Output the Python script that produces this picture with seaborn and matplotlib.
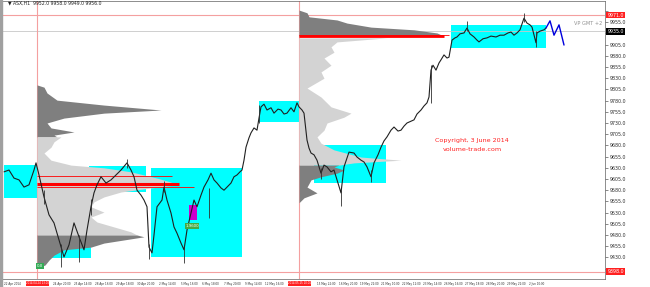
import matplotlib
matplotlib.use("Agg")
import matplotlib.pyplot as plt
import matplotlib.transforms as mtransforms
from matplotlib.patches import Rectangle
import seaborn as sns
import numpy as np
import pandas as pd

sns.set_style("white")
plt.rcParams['font.family'] = ['DejaVu Sans']

# ---------------- data ----------------
price_x = [0, 5, 10, 15, 20, 25, 30, 32, 35, 40, 45, 50, 55, 57, 60, 65, 70, 75, 80, 83, 87, 90, 93, 97,
           102, 107, 112, 117, 123, 127, 130, 133, 137, 140, 143, 145, 148, 150, 153, 158, 160, 163, 167,
           170, 173, 177, 180, 183, 187, 190, 193, 197, 200, 204, 207, 210, 213, 217, 220, 224, 227, 230,
           233, 236, 238, 240, 242, 245, 247, 250, 253, 255, 257, 260, 263, 267, 270, 274, 277, 280, 283,
           287, 290, 293, 295, 298, 300, 303, 305, 307, 310, 313, 317, 320, 323, 327, 330, 333, 337, 340,
           343, 345, 350, 353, 357, 360, 363, 367, 370, 374, 377, 380, 383, 387, 390, 394, 397, 400, 403,
           407, 410, 413, 417, 420, 423, 425, 427, 429, 432, 435, 437, 440, 443, 445, 448, 451, 453, 456,
           460, 463, 466, 470, 473, 475, 479, 483, 487, 492, 496, 500, 504, 507, 510, 513, 516, 518, 520,
           523, 526, 528, 530, 532, 533, 536, 540, 542]
price_close = [9621, 9625, 9607, 9603, 9587, 9592, 9625, 9641, 9614, 9565, 9525, 9507, 9469, 9453, 9431,
               9458, 9507, 9476, 9447, 9491, 9543, 9574, 9592, 9610, 9596, 9603, 9614, 9625, 9641, 9625,
               9610, 9580, 9569, 9558, 9543, 9453, 9440, 9480, 9543, 9558, 9587, 9558, 9529, 9498, 9484,
               9462, 9447, 9491, 9529, 9558, 9543, 9569, 9587, 9603, 9618, 9603, 9596, 9585, 9580, 9589,
               9596, 9610, 9614, 9621, 9625, 9647, 9676, 9697, 9708, 9719, 9714, 9741, 9766, 9772, 9759,
               9764, 9752, 9761, 9759, 9750, 9752, 9764, 9755, 9775, 9766, 9759, 9752, 9692, 9674, 9663,
               9659, 9647, 9618, 9636, 9632, 9621, 9625, 9603, 9574, 9632, 9652, 9665, 9663, 9654, 9647,
               9643, 9632, 9610, 9641, 9659, 9676, 9690, 9699, 9714, 9721, 9712, 9714, 9723, 9730, 9734,
               9737, 9750, 9759, 9768, 9775, 9788, 9848, 9859, 9848, 9864, 9871, 9882, 9875, 9877, 9915,
               9920, 9922, 9929, 9931, 9942, 9929, 9922, 9915, 9911, 9918, 9920, 9924, 9922, 9926, 9926,
               9931, 9933, 9926, 9931, 9938, 9951, 9964, 9953, 9949, 9944, 9926, 9909, 9931, 9935, 9938,
               9942]

# long wicks (x, low, high)
wick_x = [57, 75, 145, 180, 205, 337, 532, 463, 520, 123, 40, 87, 160, 255, 317, 367, 427]
wick_lo = [9409, 9420, 9427, 9418, 9518, 9545, 9900, 9935, 9955, 9630, 9550, 9525, 9575, 9730, 9605, 9598, 9775]
wick_hi = [9460, 9480, 9460, 9455, 9585, 9580, 9935, 9958, 9975, 9650, 9580, 9560, 9600, 9770, 9630, 9625, 9860]

# projection (blue)
proj_x = [542, 546, 550, 555, 560]
proj_y = [9942, 9958, 9926, 9949, 9904]

# cyan boxes: x0, x1, price_low, price_high
box_x0 = [0, 85, 40, 147, 255, 310, 447]
box_x1 = [33, 142, 87, 238, 297, 382, 542]
box_lo = [9563, 9576, 9429, 9431, 9732, 9596, 9897]
box_hi = [9636, 9634, 9469, 9630, 9779, 9681, 9949]

# volume profile 1 (anchored at 24 Apr)
vp1_anchor = 33
vp1_dark_up_p = [9815, 9810, 9797, 9781, 9770, 9759, 9752, 9741, 9730, 9719, 9710, 9703, 9699]
vp1_dark_up_w = [0, 7, 10, 20, 67, 124, 67, 27, 10, 14, 37, 17, 20]
vp1_light_p = [9699, 9688, 9676, 9663, 9647, 9636, 9630, 9621, 9614, 9607, 9598, 9592, 9585, 9576, 9565,
               9554, 9543, 9531, 9520, 9509, 9498, 9487, 9480]
vp1_light_w = [24, 17, 14, 7, 14, 34, 67, 94, 107, 120, 134, 140, 114, 84, 67, 57, 54, 67, 54, 60, 77, 94,
               100]
vp1_dark_lo_p = [9480, 9476, 9469, 9462, 9453, 9447, 9435, 9424, 9413, 9406]
vp1_dark_lo_w = [100, 107, 87, 67, 54, 27, 17, 12, 8, 0]

# volume profile 2 (anchored at 15 May)
vp2_anchor = 295
vp2_dark_up_p = [9982, 9976, 9967, 9960, 9953, 9944, 9938, 9931, 9924]
vp2_dark_up_w = [0, 8, 10, 38, 48, 72, 115, 138, 145]
vp2_light_p = [9920, 9911, 9900, 9888, 9875, 9859, 9844, 9830, 9808, 9788, 9766, 9752, 9743, 9730, 9714,
               9699, 9685, 9670, 9654, 9647, 9641, 9636]
vp2_light_w = [88, 38, 32, 35, 25, 32, 22, 25, 8, 22, 32, 52, 45, 28, 25, 18, 22, 35, 62, 102, 55, 40]
vp2_dark_lo_p = [9636, 9632, 9625, 9618, 9610, 9603, 9587, 9574, 9563, 9552]
vp2_dark_lo_w = [40, 35, 45, 38, 22, 12, 8, 18, 5, 0]

# POC lines: price, x_start, x_end, width
poc_p = [9594, 9612, 9587, 9924, 9926]
poc_x0 = [33, 33, 33, 295, 295]
poc_x1 = [175, 168, 190, 440, 445]
poc_lw = [2.2, 0.6, 0.6, 2.0, 0.6]

hline_top = 9971
hline_grey = 9935
hline_bottom = 9398
vline_x = [33, 295]

ytick_vals = list(range(9405, 9981, 25))
xtick_pos = [0, 49, 70, 91, 112, 133, 155, 177, 198, 220, 241, 261, 313, 335, 356, 377, 398, 419, 440,
             461, 482, 503, 525]
xtick_lab = ["22 Apr 2014", "24 Apr 20:00", "25 Apr 14:00", "28 Apr 16:00", "29 Apr 18:00",
             "30 Apr 20:00", "2 May 14:00", "5 May 16:00", "6 May 18:00", "7 May 20:00", "9 May 14:00",
             "12 May 16:00", "15 May 22:00", "16 May 20:00", "19 May 22:00", "21 May 10:00",
             "22 May 12:00", "23 May 14:00", "26 May 16:00", "27 May 18:00", "28 May 20:00",
             "29 May 22:00", "2 Jun 10:00"]
vline_labels = ["2014.04.24 13:00", "2014.05.15 10:00"]

# ---------------- figure ----------------
fig = plt.figure(figsize=(6.5, 2.87), dpi=100)
fig.patches.append(Rectangle((0, 0), 2 / 650, 1, transform=fig.transFigure, color="#a0a0a0", zorder=0))
ax = fig.add_axes([2 / 650, 8 / 287, 603 / 650, 278 / 287])
ax.set_xlim(-2, 601)
ax.set_ylim(9381.8, 10002.3)

for x0, x1, lo, hi in zip(box_x0, box_x1, box_lo, box_hi):
    ax.add_patch(Rectangle((x0, lo), x1 - x0, hi - lo, color="#00ffff", lw=0, zorder=1))

def draw_profile(anchor, p, w, color):
    p = np.asarray(p)
    w = np.asarray(w)
    ax.fill_betweenx(p, anchor, anchor + w, color=color, lw=0, zorder=2)

draw_profile(vp1_anchor, vp1_dark_up_p, vp1_dark_up_w, "#7f7f7f")
draw_profile(vp1_anchor, vp1_light_p, vp1_light_w, "#d3d3d3")
draw_profile(vp1_anchor, vp1_dark_lo_p, vp1_dark_lo_w, "#7f7f7f")
draw_profile(vp2_anchor, vp2_dark_up_p, vp2_dark_up_w, "#7f7f7f")
draw_profile(vp2_anchor, vp2_light_p, vp2_light_w, "#d3d3d3")
draw_profile(vp2_anchor, vp2_dark_lo_p, vp2_dark_lo_w, "#7f7f7f")

for p, x0, x1, lw in zip(poc_p, poc_x0, poc_x1, poc_lw):
    ax.plot([x0, x1], [p, p], color="#ff0000", lw=lw, solid_capstyle="butt", zorder=3)

ax.axhline(hline_top, color="#f4a0a0", lw=0.8, zorder=1.5)
ax.axhline(hline_grey, color="#c8c8c8", lw=0.6, zorder=1.5)
ax.axhline(hline_bottom, color="#f4a0a0", lw=0.8, zorder=1.5)
for vx in vline_x:
    ax.axvline(vx, color="#f4a0a0", lw=0.8, zorder=1.5)

df = pd.DataFrame({"x": price_x, "price": price_close})
sns.lineplot(data=df, x="x", y="price", color="#202020", lw=0.8, ax=ax, zorder=4, estimator=None)
ax.vlines(wick_x, wick_lo, wick_hi, color="#303030", lw=0.6, zorder=4)
sns.lineplot(x=proj_x, y=proj_y, color="#0000dd", lw=1.0, ax=ax, zorder=5, estimator=None)

# small markers
ax.add_patch(Rectangle((185, 9513), 8, 34, color="#cc00cc", lw=0, zorder=3.5))
ax.text(188, 9500, "1.9600", fontsize=2.8, color="white", ha="center", va="center", zorder=6,
        bbox=dict(boxstyle="square,pad=0.15", fc="#44aa44", ec="none"))
ax.text(36, 9411, "0.0", fontsize=2.8, color="white", ha="center", va="center", zorder=6,
        bbox=dict(boxstyle="square,pad=0.3", fc="#33aa55", ec="none"))

ax.text(468, 9690, "Copyright, 3 June 2014", fontsize=4.6, color="#ff2020", ha="center", va="center", zorder=6)
ax.text(468, 9670, "volume-trade.com", fontsize=4.6, color="#ff2020", ha="center", va="center", zorder=6)
ax.text(598, 9953, "VP GMT +2", fontsize=3.6, color="#909090", ha="right", va="center", zorder=6)
ax.text(4, 9997, "\u25bc ASX,H1  9952.0 9958.0 9949.0 9956.0", fontsize=3.3, color="#202020",
        ha="left", va="center", zorder=6)

# axes styling
ax.yaxis.tick_right()
ax.set_yticks(ytick_vals)
boxed = [hline_top, hline_grey, hline_bottom]
ax.set_yticklabels(["" if min(abs(v - b) for b in boxed) < 11 else f"{v:.1f}" for v in ytick_vals],
                   fontsize=3.4, color="#303030")
ax.tick_params(axis="y", length=2, width=0.4, pad=1.5, colors="#303030")
ax.set_xticks(xtick_pos)
ax.set_xticklabels(xtick_lab, fontsize=2.0, color="#303030", ha="left")
ax.tick_params(axis="x", length=1.2, width=0.4, pad=0.6, colors="#303030")
ax.set_xlabel("")
ax.set_ylabel("")
for s in ax.spines.values():
    s.set_color("#606060")
    s.set_linewidth(0.5)

trans_y = mtransforms.blended_transform_factory(ax.transAxes, ax.transData)
for val, fc, tc in [(hline_top, "#ff2020", "white"), (hline_grey, "#000000", "white"),
                    (hline_bottom, "#ff2020", "white")]:
    ax.text(1.004, val, f"{val:.1f}", transform=trans_y, fontsize=3.4, color=tc, ha="left", va="center",
            zorder=7, bbox=dict(boxstyle="square,pad=0.2", fc=fc, ec="none"), clip_on=False)

trans_x = mtransforms.blended_transform_factory(ax.transData, ax.transAxes)
for vx, lab in zip(vline_x, vline_labels):
    ax.text(vx - 11, -0.016, lab, transform=trans_x, fontsize=1.9, color="white", ha="left", va="center",
            zorder=7, bbox=dict(boxstyle="square,pad=0.15", fc="#ff2020", ec="none"), clip_on=False)

fig.savefig("out.png", dpi=100, facecolor="white")
